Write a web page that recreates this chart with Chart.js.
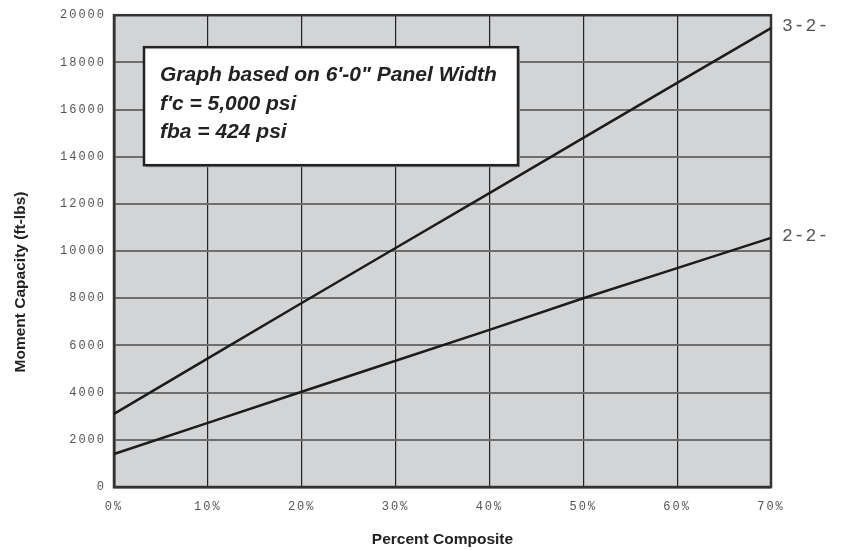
<!DOCTYPE html>
<html>
<head>
<meta charset="utf-8">
<title>Moment Capacity</title>
<script src="https://cdn.jsdelivr.net/npm/chart.js@4.4.1/dist/chart.umd.min.js"></script>
<style>
  html, body { margin: 0; padding: 0; background: #fff; }
  canvas { display: block; }
</style>
</head>
<body>
<canvas id="graph_moment" width="841" height="550"></canvas>
<script>
// percent composite (x axis)
const categories = ['0%', '10%', '20%', '30%', '40%', '50%', '60%', '70%'];
// moment capacity, ft-lbs
const series32 = [3100, 5450, 7800, 10130, 12460, 14800, 17130, 19450];
const series22 = [1400, 2720, 4040, 5350, 6660, 8000, 9280, 10560];
const seriesNames = ['3-2-', '2-2-'];
const yMin = 0, yMax = 20000, yStep = 2000;
const xTitle = 'Percent Composite';
const yTitle = 'Moment Capacity (ft-lbs)';
const noteLines = ['Graph based on 6\'-0" Panel Width', 'f\'c = 5,000 psi', 'fba = 424 psi'];

const ctx = document.getElementById('graph_moment').getContext('2d');

// grey plot background, frame, note box, axis titles and end labels
const decor = {
    id: 'decor',
    beforeDraw(chart) {
        const a = chart.chartArea;
        const c = chart.ctx;
        c.save();
        c.fillStyle = '#d3d4d6';
        c.fillRect(a.left, a.top, a.right - a.left, a.bottom - a.top);
        c.restore();
        // spaced-out tick labels
        Object.values(chart.scales).forEach(s => {
            if (s._spaced) return;
            const orig = s.drawLabels;
            s.drawLabels = function (area) {
                chart.ctx.save();
                chart.ctx.letterSpacing = '2px';
                orig.call(this, area);
                chart.ctx.restore();
            };
            s._spaced = true;
        });
    },
    beforeDatasetsDraw(chart) {
        const a = chart.chartArea;
        const c = chart.ctx;
        c.save();
        c.strokeStyle = '#333';
        c.lineWidth = 2.5;
        c.strokeRect(a.left, a.top, a.right - a.left, a.bottom - a.top);
        c.restore();
    },
    afterDatasetsDraw(chart) {
        const a = chart.chartArea;
        const c = chart.ctx;
        c.save();
        // note box
        const bx = a.left + 30, by = a.top + 32, bw = 374, bh = 118;
        c.fillStyle = '#9a9a9a';
        c.fillRect(bx + 2, by + 2, bw, bh);
        c.fillStyle = '#fff';
        c.fillRect(bx, by, bw, bh);
        c.strokeStyle = '#222';
        c.lineWidth = 2.5;
        c.strokeRect(bx, by, bw, bh);
        c.fillStyle = '#222';
        c.font = 'italic bold 21px "Liberation Sans", Arial, sans-serif';
        c.textBaseline = 'alphabetic';
        c.textAlign = 'left';
        noteLines.forEach((t, i) => c.fillText(t, bx + 16, by + 34 + i * 28.5));

        // axis titles
        c.font = 'bold 15.5px "Liberation Sans", Arial, sans-serif';
        c.fillStyle = '#222';
        c.textAlign = 'center';
        c.textBaseline = 'middle';
        c.fillText(xTitle, (a.left + a.right) / 2, 540);
        c.save();
        c.translate(21, 282);
        c.rotate(-Math.PI / 2);
        c.fillText(yTitle, 0, 0);
        c.restore();

        // series labels at line ends
        c.font = '18px "Liberation Mono", monospace';
        c.letterSpacing = '1px';
        c.fillStyle = '#555';
        c.textAlign = 'left';
        chart.data.datasets.forEach((ds, i) => {
            const pts = chart.getDatasetMeta(i).data;
            const p = pts[pts.length - 1];
            c.fillText(seriesNames[i], p.x + 11, p.y - 2);
        });
        c.restore();
    }
};

const data = {
    labels: categories,
    datasets: [
        { label: seriesNames[0], data: series32 },
        { label: seriesNames[1], data: series22 }
    ].map(d => Object.assign(d, {
        borderColor: '#1c1c1c',
        borderWidth: 2.5,
        pointRadius: 0,
        tension: 0,
        fill: false
    }))
};

const tickFont = { family: '"Liberation Mono", monospace', size: 12 };

const options = {
    responsive: false,
    animation: false,
    layout: { padding: { top: 12, right: 70, left: 0, bottom: 0 } },
    plugins: {
        legend: { display: false },
        tooltip: { enabled: false }
    },
    scales: {
        x: {
            offset: false,
            afterFit(s) { s.height = 63; },
            grid: { color: '#222', lineWidth: 1.2, drawTicks: false },
            border: { color: '#333', width: 2.5 },
            ticks: { font: tickFont, color: '#555', padding: 13, maxRotation: 0 }
        },
        y: {
            min: yMin,
            max: yMax,
            afterFit(s) { s.width = 114; },
            grid: { color: '#6e6e6e', lineWidth: 2, drawTicks: false },
            border: { color: '#333', width: 2.5 },
            ticks: {
                stepSize: yStep,
                font: tickFont,
                color: '#555',
                padding: 8,
                callback: v => String(v)
            }
        }
    }
};

new Chart(ctx, { type: 'line', data: data, options: options, plugins: [decor] });
</script>
</body>
</html>
